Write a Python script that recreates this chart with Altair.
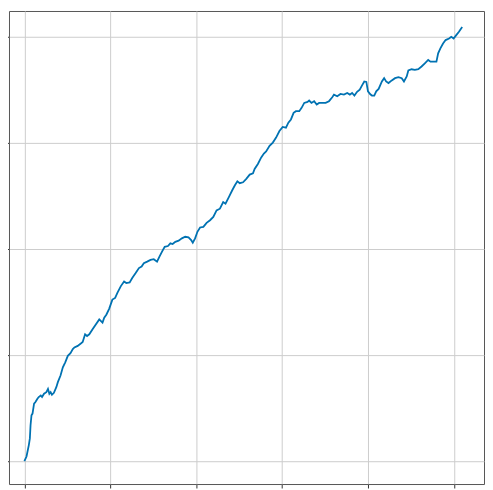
import altair as alt
import pandas as pd

x_vals = [0.000, 0.025, 0.052, 0.064, 0.072, 0.083, 0.095, 0.113, 0.129, 0.152,
          0.167, 0.191, 0.206, 0.229, 0.256, 0.275, 0.291, 0.306, 0.321, 0.344,
          0.372, 0.390, 0.421, 0.448, 0.476, 0.506, 0.537, 0.564, 0.583, 0.621,
          0.661, 0.679, 0.707, 0.730, 0.756, 0.794, 0.872, 0.910, 0.930, 0.956,
          0.987, 1.025, 1.057, 1.083, 1.122, 1.161, 1.187, 1.226, 1.256, 1.296,
          1.334, 1.365, 1.391, 1.430, 1.469, 1.507, 1.545, 1.573, 1.603, 1.634,
          1.672, 1.700, 1.726, 1.758, 1.796, 1.834, 1.873, 1.911, 1.942, 1.961,
          1.988, 2.015, 2.046, 2.084, 2.122, 2.162, 2.200, 2.238, 2.277, 2.315,
          2.342, 2.381, 2.419, 2.450, 2.480, 2.508, 2.546, 2.584, 2.624, 2.662,
          2.681, 2.719, 2.758, 2.789, 2.815, 2.855, 2.893, 2.931, 2.970, 3.008,
          3.046, 3.074, 3.104, 3.135, 3.162, 3.201, 3.228, 3.259, 3.297, 3.316,
          3.343, 3.374, 3.404, 3.432, 3.470, 3.508, 3.547, 3.585, 3.605, 3.643,
          3.681, 3.721, 3.759, 3.790, 3.816, 3.843, 3.874, 3.905, 3.932, 3.958,
          3.982, 4.001, 4.028, 4.047, 4.074, 4.097, 4.125, 4.163, 4.189, 4.212,
          4.240, 4.278, 4.316, 4.356, 4.394, 4.420, 4.452, 4.471, 4.509, 4.547,
          4.587, 4.625, 4.663, 4.702, 4.729, 4.767, 4.798, 4.818, 4.844, 4.875,
          4.905, 4.945, 4.971, 4.998, 5.029, 5.060, 5.098]

y_vals = [0.000, 0.044, 0.152, 0.215, 0.339, 0.433, 0.449, 0.542, 0.558, 0.589,
          0.605, 0.620, 0.605, 0.636, 0.651, 0.682, 0.636, 0.651, 0.626, 0.645,
          0.698, 0.745, 0.807, 0.885, 0.932, 0.993, 1.019, 1.056, 1.072, 1.087,
          1.112, 1.124, 1.196, 1.180, 1.196, 1.243, 1.336, 1.306, 1.352, 1.383,
          1.436, 1.523, 1.539, 1.586, 1.648, 1.694, 1.679, 1.685, 1.726, 1.773,
          1.820, 1.835, 1.866, 1.881, 1.897, 1.904, 1.881, 1.928, 1.975, 2.021,
          2.028, 2.053, 2.047, 2.068, 2.078, 2.100, 2.115, 2.109, 2.084, 2.059,
          2.100, 2.162, 2.203, 2.208, 2.246, 2.271, 2.302, 2.364, 2.380, 2.442,
          2.427, 2.489, 2.551, 2.598, 2.638, 2.620, 2.629, 2.661, 2.701, 2.713,
          2.754, 2.801, 2.863, 2.900, 2.919, 2.972, 3.003, 3.050, 3.112, 3.150,
          3.143, 3.190, 3.221, 3.283, 3.299, 3.299, 3.330, 3.377, 3.386, 3.399,
          3.377, 3.393, 3.362, 3.377, 3.377, 3.377, 3.393, 3.430, 3.455, 3.439,
          3.461, 3.455, 3.470, 3.455, 3.470, 3.446, 3.481, 3.502, 3.542, 3.579,
          3.575, 3.486, 3.458, 3.446, 3.446, 3.486, 3.509, 3.579, 3.610, 3.579,
          3.564, 3.589, 3.610, 3.620, 3.610, 3.579, 3.626, 3.682, 3.694, 3.689,
          3.694, 3.720, 3.750, 3.782, 3.766, 3.766, 3.766, 3.844, 3.891, 3.937,
          3.969, 3.984, 4.000, 3.984, 4.016, 4.047, 4.093]

x_ticks = [0, 1, 2, 3, 4, 5]
y_ticks = [0, 1, 2, 3, 4]

df = pd.DataFrame({"x": x_vals, "y": y_vals})

chart = alt.Chart(df).mark_line(color="#0072B2", strokeWidth=1.8, clip=True).encode(
    x=alt.X("x:Q",
            scale=alt.Scale(domain=[-0.179, 5.352], nice=False, zero=False),
            axis=alt.Axis(values=x_ticks, labels=False, title=None, domain=False,
                          ticks=True, tickSize=4, tickColor="#333333", tickWidth=1,
                          grid=True, gridColor="#cccccc", gridWidth=1)),
    y=alt.Y("y:Q",
            scale=alt.Scale(domain=[-0.215, 4.243], nice=False, zero=False),
            axis=alt.Axis(values=y_ticks, labels=False, title=None, domain=False,
                          ticks=True, tickSize=4, tickColor="#333333", tickWidth=1,
                          grid=True, gridColor="#cccccc", gridWidth=1)),
).properties(
    width=479,
    height=477,
    padding={"left": 1, "top": 1, "right": 1, "bottom": 4},
    autosize=alt.AutoSizeParams(type="none"),
).configure_view(stroke="#555555", strokeWidth=1)

chart.save("out.html", embed_options={"renderer": "svg", "actions": False})
